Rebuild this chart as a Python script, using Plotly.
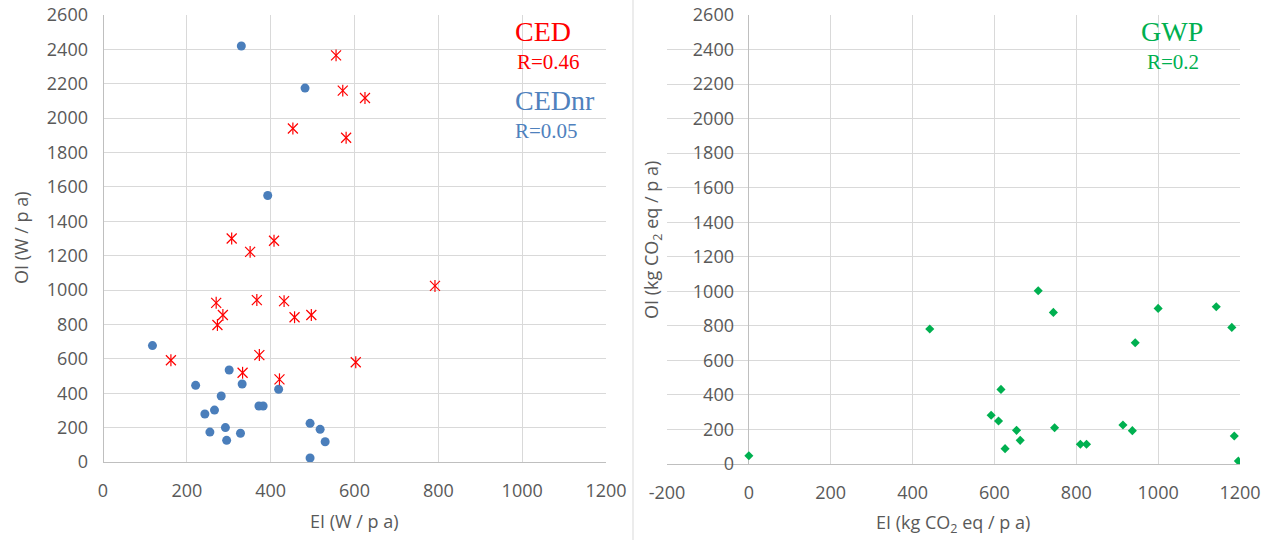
import plotly.graph_objects as go

# ---- data ----
ced_x = [453, 307, 351, 408, 556, 572, 625, 580, 270, 286, 273, 367, 432, 457, 497, 373, 162, 333, 421, 792, 603]
ced_y = [1940, 1300, 1222, 1287, 2365, 2160, 2117, 1886, 926, 855, 797, 942, 936, 842, 855, 622, 592, 519, 481, 1024, 580]

cednr_x = [330, 482, 393, 118, 221, 301, 332, 282, 266, 243, 255, 292, 295, 328, 372, 382, 419, 494, 518, 530, 494]
cednr_y = [2420, 2175, 1550, 677, 446, 535, 454, 384, 302, 279, 174, 200, 126, 167, 326, 326, 423, 225, 190, 118, 23]

gwp_x = [0, 442, 707, 744, 1000, 1142, 1180, 944, 616, 592, 610, 654, 663, 626, 747, 810, 825, 914, 937, 1186, 1196]
gwp_y = [48, 782, 1003, 878, 901, 911, 791, 702, 432, 282, 249, 195, 137, 89, 210, 114, 114, 226, 193, 162, 17]

left_xticks = [0, 200, 400, 600, 800, 1000, 1200]
right_xticks = [-200, 0, 200, 400, 600, 800, 1000, 1200]
y_ticks = [0, 200, 400, 600, 800, 1000, 1200, 1400, 1600, 1800, 2000, 2200, 2400, 2600]

W, H = 1271, 540
RED = "#FF0000"
BLUE = "#4A7EBB"
GREEN = "#00B050"
GRID = "#D9D9D9"
AXIS = "#BFBFBF"
TXT = "#595959"
TICKFONT = dict(family="Open Sans", size=18, color=TXT)


def px(x):
    return x / W


def py(y):
    return 1 - y / H


fig = go.Figure()

fig.add_trace(go.Scatter(x=cednr_x, y=cednr_y, mode="markers", name="CEDnr",
                         marker=dict(symbol="circle", size=9, color=BLUE),
                         xaxis="x", yaxis="y"))
fig.add_trace(go.Scatter(x=ced_x, y=ced_y, mode="markers", name="CED",
                         marker=dict(symbol="x-thin-open", size=10, color=RED,
                                     line=dict(color=RED, width=1.2)),
                         xaxis="x", yaxis="y"))
fig.add_trace(go.Scatter(x=ced_x, y=ced_y, mode="markers", name="CED", showlegend=False,
                         marker=dict(symbol="line-ns-open", size=8.5, color=RED,
                                     line=dict(color=RED, width=1.2)),
                         xaxis="x", yaxis="y"))
fig.add_trace(go.Scatter(x=gwp_x, y=gwp_y, mode="markers", name="GWP",
                         marker=dict(symbol="diamond", size=7, color=GREEN),
                         xaxis="x2", yaxis="y2"))

common_x = dict(showgrid=True, gridcolor=GRID, gridwidth=1, zeroline=True, zerolinecolor=AXIS,
                zerolinewidth=1, showline=False, ticks="", tickfont=TICKFONT,
                ticklabelstandoff=16, automargin=False, fixedrange=True)
common_y = dict(showgrid=True, gridcolor=GRID, gridwidth=1, zeroline=True, zerolinecolor=AXIS,
                zerolinewidth=1, showline=False, ticks="", tickfont=TICKFONT,
                ticklabelstandoff=14, automargin=False, fixedrange=True,
                range=[0, 2600], tickvals=y_ticks)

fig.update_layout(
    width=W, height=H, autosize=False,
    margin=dict(l=0, r=0, t=0, b=0),
    paper_bgcolor="white", plot_bgcolor="white",
    showlegend=False,
    xaxis=dict(domain=[px(103), px(606)], range=[0, 1200], tickvals=left_xticks, anchor="y", **common_x),
    yaxis=dict(domain=[py(462), py(15)], anchor="x", **common_y),
    xaxis2=dict(domain=[px(667), px(1240)], range=[-200, 1200], tickvals=right_xticks,
                ticktext=[str(v) for v in right_xticks], anchor="y2", **common_x),
    yaxis2=dict(domain=[py(464), py(15)], anchor="free", position=px(748), **common_y),
)

# divider between the two charts
fig.add_shape(type="line", xref="paper", yref="paper", x0=px(633), x1=px(633), y0=0, y1=1,
              line=dict(color=GRID, width=1))

ann = []
ttl = dict(family="Open Sans", size=18, color=TXT)
ann.append(dict(text="OI (W / p a)", x=px(21), y=py(238), textangle=-90, font=ttl))
ann.append(dict(text="EI (W / p a)", x=px(354), y=py(521), font=ttl))
ann.append(dict(text="OI (kg CO<sub>2</sub> eq / p a)", x=px(652), y=py(240), textangle=-90, font=ttl))
ann.append(dict(text="EI (kg CO<sub>2</sub> eq / p a)", x=px(953), y=py(523), font=ttl))

serif = "Liberation Serif"
ann.append(dict(text="CED", x=px(513), y=py(32), xanchor="left", font=dict(family=serif, size=28, color=RED)))
ann.append(dict(text="R=0.46", x=px(515), y=py(62), xanchor="left", font=dict(family=serif, size=21, color=RED)))
ann.append(dict(text="CEDnr", x=px(513), y=py(101), xanchor="left", font=dict(family=serif, size=28, color="#4F81BD")))
ann.append(dict(text="R=0.05", x=px(513), y=py(131), xanchor="left", font=dict(family=serif, size=21, color="#4F81BD")))
ann.append(dict(text="GWP", x=px(1172), y=py(32), font=dict(family=serif, size=28, color=GREEN)))
ann.append(dict(text="R=0.2", x=px(1173), y=py(62), font=dict(family=serif, size=21, color=GREEN)))

for a in ann:
    a.setdefault("xanchor", "center")
    a.update(xref="paper", yref="paper", yanchor="middle", showarrow=False)
    fig.add_annotation(**a)

fig.write_html("out.html")
